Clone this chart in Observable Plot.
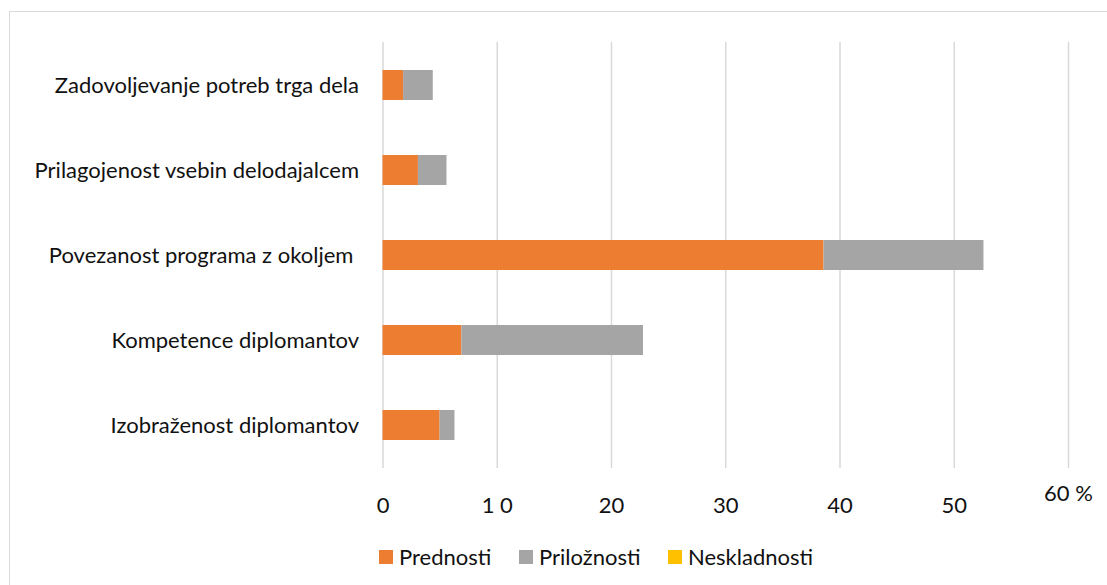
<!DOCTYPE html>
<html>
<head>
<meta charset="utf-8">
<script src="https://cdn.jsdelivr.net/npm/d3@7"></script>
<script src="https://cdn.jsdelivr.net/npm/@observablehq/plot@0.6"></script>
<style>
  html, body { margin: 0; padding: 0; background: #fff; overflow: hidden; }
  #wrap { position: relative; width: 1107px; height: 585px; font-family: Lato, "Noto Sans", sans-serif; }
  #frame { position: absolute; left: 9px; top: 11px; width: 1200px; height: 700px; border: 1.5px solid #d9d9d9; box-sizing: border-box; }
  #chart { position: absolute; left: 0; top: 0; }
  #legend { position: absolute; left: 379px; top: 545px; display: flex; align-items: center; font-size: 22px; color: #111; line-height: 24px; }
  .item { display: flex; align-items: center; }
  .sw { width: 14px; height: 14px; margin-right: 6px; }
</style>
</head>
<body>
<div id="wrap">
  <div id="frame"></div>
  <div id="chart"></div>
  <div id="legend"></div>
</div>
<script>
const categories = [
  "Zadovoljevanje potreb trga dela",
  "Prilagojenost vsebin delodajalcem",
  "Povezanost programa z okoljem ",
  "Kompetence diplomantov",
  "Izobraženost diplomantov"
];
const seriesNames = ["Prednosti", "Priložnosti", "Neskladnosti"];
const seriesColors = ["#ED7D31", "#A5A5A5", "#FFC000"];
const prednosti = [1.8, 3.1, 38.6, 6.9, 5.0];
const priloznosti = [2.6, 2.5, 14.0, 15.9, 1.3];
const neskladnosti = [0, 0, 0, 0, 0];
const tickValues = [0, 10, 20, 30, 40, 50];
const tickLabels = ["0", "1 0", "20", "30", "40", "50"];
const endTick = [60];
const endTickLabel = ["60 %"];

const valuesBySeries = [prednosti, priloznosti, neskladnosti];
const data = [];
seriesNames.forEach((s, si) => {
  categories.forEach((c, ci) => {
    data.push({category: c, series: s, value: valuesBySeries[si][ci]});
  });
});

const chart = Plot.plot({
  width: 1107,
  height: 585,
  marginLeft: 382.5,
  marginRight: 39,
  marginTop: 42,
  marginBottom: 117,
  style: {fontFamily: "Lato, 'Noto Sans', sans-serif", fontSize: "22px", color: "#111", background: "transparent"},
  x: {domain: [0, 60], axis: null},
  y: {domain: categories, paddingInner: 0.65, paddingOuter: 0.325, label: null},
  color: {domain: seriesNames, range: seriesColors},
  marks: [
    Plot.ruleX(tickValues.concat(endTick), {stroke: "#d9d9d9", strokeWidth: 1.5}),
    Plot.barX(data, Plot.stackX({y: "category", x: "value", fill: "series", order: seriesNames})),
    Plot.axisY({tickSize: 0, tickPadding: 24, fontSize: 22, label: null}),
    Plot.text(tickValues, {x: d => d, text: (d, i) => tickLabels[i], frameAnchor: "bottom", dy: 44, fontSize: 22, fill: "#111"}),
    Plot.text(endTick, {x: d => d, text: (d, i) => endTickLabel[i], frameAnchor: "bottom", dy: 32, fontSize: 22, fill: "#111"})
  ]
});
document.getElementById("chart").appendChild(chart);

const legend = document.getElementById("legend");
const itemWidths = [140, 149, 160];
seriesNames.forEach((s, i) => {
  const it = document.createElement("div");
  it.className = "item";
  it.style.width = itemWidths[i] + "px";
  const sw = document.createElement("div");
  sw.className = "sw";
  sw.style.background = seriesColors[i];
  const t = document.createElement("span");
  t.textContent = s;
  it.appendChild(sw);
  it.appendChild(t);
  legend.appendChild(it);
});
</script>
</body>
</html>
